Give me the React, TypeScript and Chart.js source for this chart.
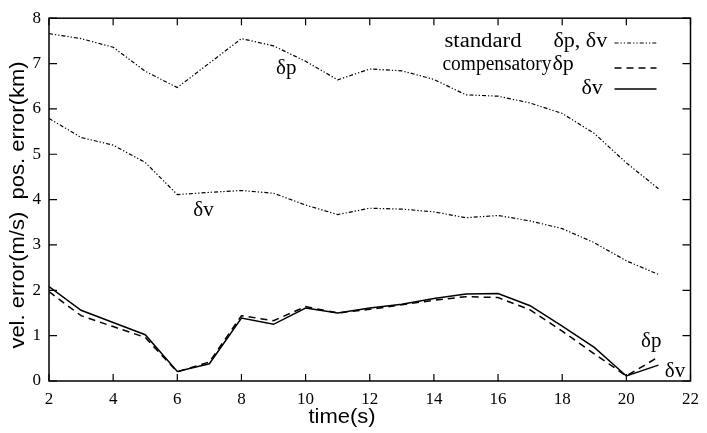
import React, { useEffect, useRef } from "react";
import { Chart, registerables } from "chart.js";

Chart.register(...registerables);

const timeS = [2, 3, 4, 5, 6, 7, 8, 9, 10, 11, 12, 13, 14, 15, 16, 17, 18, 19, 20, 21];
const stdPos = [7.66, 7.55, 7.36, 6.83, 6.47, 7.01, 7.55, 7.39, 7.05, 6.64, 6.88, 6.84, 6.65, 6.31, 6.28, 6.13, 5.9, 5.46, 4.81, 4.24];
const stdVel = [5.79, 5.37, 5.2, 4.82, 4.11, 4.16, 4.2, 4.14, 3.88, 3.67, 3.81, 3.79, 3.73, 3.6, 3.65, 3.53, 3.36, 3.05, 2.65, 2.35];
const compPos = [1.97, 1.44, 1.2, 0.96, 0.2, 0.42, 1.44, 1.33, 1.64, 1.5, 1.58, 1.68, 1.78, 1.86, 1.84, 1.57, 1.1, 0.6, 0.11, 0.53];
const compVel = [2.08, 1.56, 1.29, 1.02, 0.21, 0.38, 1.39, 1.25, 1.61, 1.5, 1.61, 1.69, 1.82, 1.92, 1.93, 1.66, 1.21, 0.74, 0.11, 0.35];

const xTicks = [2, 4, 6, 8, 10, 12, 14, 16, 18, 20, 22];
const yTicks = [0, 1, 2, 3, 4, 5, 6, 7, 8];

const xTitle = "time(s)";
const yTitle = "vel. error(m/s)  pos. error(km)";

// annotation labels placed in data coordinates
const annotations = [
  { text: "δp", x: 9.08, y: 6.77 },
  { text: "δv", x: 6.5, y: 3.63 },
  { text: "δp", x: 20.46, y: 0.76 },
  { text: "δv", x: 21.2, y: 0.09 },
];

const DOTDASH = [4, 2, 1.3, 2, 1.3, 2];
const DASH = [7, 5];

const SERIF = '"Liberation Serif", "Times New Roman", serif';
const SANS = '"Liberation Sans", Arial, sans-serif';

const toPts = (ys: number[]) => ys.map((y, i) => ({ x: timeS[i], y }));

function fitText(ctx: CanvasRenderingContext2D, text: string, x: number, y: number, width: number) {
  const w = ctx.measureText(text).width;
  ctx.save();
  ctx.translate(x, y);
  ctx.scale(width / w, 1);
  ctx.fillText(text, 0, 0);
  ctx.restore();
}

const framePlugin = {
  id: "frame",
  afterDraw(chart: any) {
    const { ctx, chartArea: a, scales } = chart;
    const xs = scales.x;
    const ys = scales.y;
    ctx.save();
    ctx.strokeStyle = "#000";
    ctx.lineWidth = 1.5;
    ctx.setLineDash([]);
    ctx.strokeRect(a.left, a.top, a.right - a.left, a.bottom - a.top);
    ctx.lineWidth = 1.2;
    ctx.beginPath();
    xTicks.forEach((v) => {
      const px = xs.getPixelForValue(v);
      ctx.moveTo(px, a.bottom);
      ctx.lineTo(px, a.bottom - 7);
      ctx.moveTo(px, a.top);
      ctx.lineTo(px, a.top + 7);
    });
    yTicks.forEach((v) => {
      const py = ys.getPixelForValue(v);
      ctx.moveTo(a.left, py);
      ctx.lineTo(a.left + 8, py);
      ctx.moveTo(a.right, py);
      ctx.lineTo(a.right - 8, py);
    });
    ctx.stroke();

    // axis titles
    ctx.fillStyle = "#000";
    ctx.font = `20px ${SANS}`;
    ctx.textAlign = "center";
    ctx.textBaseline = "alphabetic";
    ctx.save();
    ctx.translate(342, 423);
    ctx.scale(1.1, 1);
    ctx.fillText(xTitle, 0, 0);
    ctx.restore();

    ctx.save();
    ctx.translate(24, 205);
    ctx.rotate(-Math.PI / 2);
    ctx.scale(1.1, 1);
    ctx.fillText(yTitle, 0, 0);
    ctx.restore();

    // annotations
    ctx.font = `21px ${SERIF}`;
    ctx.textAlign = "left";
    annotations.forEach((an) => {
      ctx.fillText(an.text, xs.getPixelForValue(an.x), ys.getPixelForValue(an.y));
    });

    // legend
    const lx0 = a.right - 76;
    const lx1 = a.right - 34;
    const rows = [
      { label: "standard", labelX: a.right - 246, labelW: 77, sym: "δp, δv", symX: a.right - 137, dash: DOTDASH, w: 1.2 },
      { label: "compensatory", labelX: a.right - 248, labelW: 109, sym: "δp", symX: a.right - 138, dash: DASH, w: 1.5 },
      { label: "", labelX: 0, labelW: 0, sym: "δv", symX: a.right - 109, dash: [], w: 1.5 },
    ];
    const base = [47, 70, 94];
    const lineY = [43, 68, 89];
    rows.forEach((r, i) => {
      ctx.font = `20px ${SERIF}`;
      if (r.label) fitText(ctx, r.label, r.labelX, base[i], r.labelW);
      ctx.font = `22px ${SERIF}`;
      ctx.fillText(r.sym, r.symX, base[i]);
      ctx.beginPath();
      ctx.setLineDash(r.dash);
      ctx.lineWidth = r.w;
      ctx.moveTo(lx0, lineY[i]);
      ctx.lineTo(lx1, lineY[i]);
      ctx.stroke();
    });
    ctx.restore();
  },
};

export default function App() {
  const ref = useRef<HTMLCanvasElement | null>(null);
  useEffect(() => {
    document.body.style.margin = "0";
    if (!ref.current) return;
    const chart = new Chart(ref.current, {
      type: "line",
      data: {
        datasets: [
          { label: "standard δp", data: toPts(stdPos), borderColor: "#000", borderWidth: 1.2, borderDash: DOTDASH, pointRadius: 0, tension: 0, fill: false },
          { label: "standard δv", data: toPts(stdVel), borderColor: "#000", borderWidth: 1.2, borderDash: DOTDASH, pointRadius: 0, tension: 0, fill: false },
          { label: "compensatory δp", data: toPts(compPos), borderColor: "#000", borderWidth: 1.5, borderDash: DASH, pointRadius: 0, tension: 0, fill: false },
          { label: "compensatory δv", data: toPts(compVel), borderColor: "#000", borderWidth: 1.5, pointRadius: 0, tension: 0, fill: false },
        ],
      },
      options: {
        responsive: false,
        animation: false,
        layout: { padding: { top: 11, right: 13, left: 0, bottom: 0 } },
        plugins: { legend: { display: false }, tooltip: { enabled: false } },
        scales: {
          x: {
            type: "linear",
            min: 2,
            max: 22,
            afterFit: (s: any) => { s.height = 52; },
            afterBuildTicks: (s: any) => { s.ticks = xTicks.map((v) => ({ value: v })); },
            grid: { display: false, drawTicks: false },
            border: { display: false },
            ticks: { color: "#000", padding: 8, font: { family: SERIF, size: 17 }, maxRotation: 0, autoSkip: false },
          },
          y: {
            type: "linear",
            min: 0,
            max: 8,
            afterFit: (s: any) => { s.width = 49; },
            afterBuildTicks: (s: any) => { s.ticks = yTicks.map((v) => ({ value: v })); },
            grid: { display: false, drawTicks: false },
            border: { display: false },
            ticks: { color: "#000", padding: 8, font: { family: SERIF, size: 17 } },
          },
        },
      },
      plugins: [framePlugin],
    });
    return () => chart.destroy();
  }, []);
  return (
    <div style={{ width: 707, height: 433 }}>
      <canvas ref={ref} width={707} height={433} />
    </div>
  );
}
